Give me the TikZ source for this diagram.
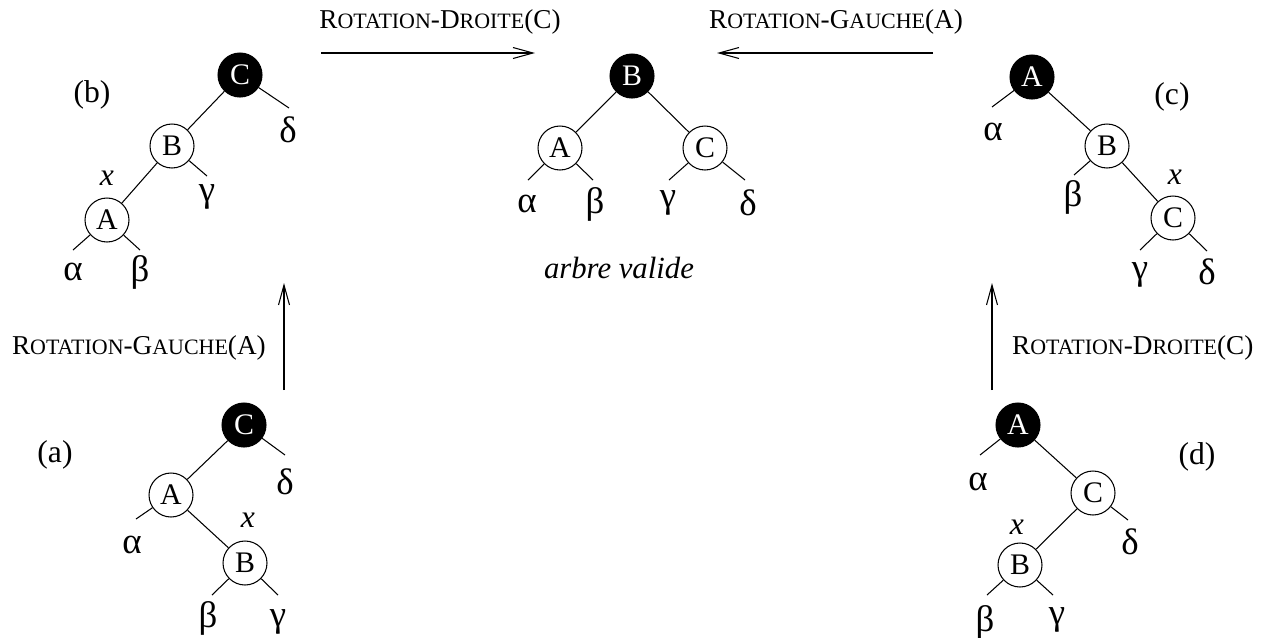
\documentclass[tikz,border=0pt]{standalone}
\usepackage{fontspec}
\setmainfont{Liberation Serif}[ItalicFont={Liberation Serif Italic}]
\usetikzlibrary{arrows.meta}

\newcommand{\pc}[1]{{\fontsize{12.5pt}{14pt}\selectfont #1}}
\newcommand{\rotd}{R\pc{OTATION}-D\pc{ROITE}(C)}
\newcommand{\rotg}{R\pc{OTATION}-G\pc{AUCHE}(A)}

\tikzset{
  noeud/.style={circle, draw, line width=0.6pt, minimum size=0.88cm, inner sep=0pt, font=\fontsize{17pt}{20pt}\selectfont},
  noir/.style={noeud, fill=black, text=white},
  arete/.style={line width=0.6pt},
  grec/.style={font=\fontsize{21pt}{24pt}\selectfont},
  etiq/.style={font=\fontsize{18pt}{21pt}\selectfont},
  fleche/.style={line width=0.6pt, -{Straight Barb[length=0.4cm, width=0.22cm]}},
}

\begin{document}
\begin{tikzpicture}[x=0.02cm, y=-0.02cm, font=\fontsize{15.5pt}{18pt}\selectfont]
        \useasboundingbox (0,0) rectangle (1268,637);

        % (b)
        \node[noir](bC) at (240,75) {C};
        \node[noeud](bB) at (172,146) {B};
        \node[noeud](bA) at (107,220) {A};
        \coordinate (bd) at (289,108);
        \coordinate (bg) at (207,176);
        \coordinate (ba) at (73,250);
        \coordinate (bb) at (140,250);
        \draw[arete] (bC) -- (bB) (bB) -- (bA) (bC) -- (bd) (bB) -- (bg) (bA) -- (ba) (bA) -- (bb);
        \node[grec](bdl) at (288,130) {δ};
        \node[grec](bgl) at (207,197) {γ};
        \node[grec](bal) at (73,272) {α};
        \node[grec](bbl) at (140,272) {β};
        \node[etiq](bx) at (107,178) {\textit{x}};
        \node[etiq](bt) at (92,95) {(b)};

        % (a)
        \node[noir](aC) at (244,425) {C};
        \node[noeud](aA) at (171,495) {A};
        \node[noeud](aB) at (245,563) {B};
        \coordinate (ad) at (285,455);
        \coordinate (aa) at (136,519);
        \coordinate (ab) at (212,595);
        \coordinate (ag) at (278,595);
        \draw[arete] (aC) -- (aA) (aA) -- (aB) (aC) -- (ad) (aA) -- (aa) (aB) -- (ab) (aB) -- (ag);
        \node[grec](adl) at (285,482) {δ};
        \node[grec](aal) at (132,545) {α};
        \node[grec](abl) at (208,618) {β};
        \node[grec](agl) at (278,622) {γ};
        \node[etiq](ax) at (248,520) {\textit{x}};
        \node[etiq](at) at (55,455) {(a)};

        % arbre valide
        \node[noir](mB) at (632,76) {B};
        \node[noeud](mA) at (560,148) {A};
        \node[noeud](mC) at (705,148) {C};
        \coordinate (ma) at (528,180);
        \coordinate (mb) at (593,180);
        \coordinate (mg) at (669,180);
        \coordinate (md) at (745,180);
        \draw[arete] (mB) -- (mA) (mB) -- (mC) (mA) -- (ma) (mA) -- (mb) (mC) -- (mg) (mC) -- (md);
        \node[grec](mal) at (527,204) {α};
        \node[grec](mbl) at (595,204) {β};
        \node[grec](mgl) at (668,203) {γ};
        \node[grec](mdl) at (748,203) {δ};
        \node[font=\fontsize{17.5pt}{20pt}\selectfont](mt) at (619,268) {\textit{arbre valide}};

        % (c)
        \node[noir](cA) at (1032,77) {A};
        \node[noeud](cB) at (1107,146) {B};
        \node[noeud](cC) at (1173,218) {C};
        \coordinate (ca) at (992,107);
        \coordinate (cb) at (1074,175);
        \coordinate (cg) at (1140,250);
        \coordinate (cd) at (1207,251);
        \draw[arete] (cA) -- (cB) (cB) -- (cC) (cA) -- (ca) (cB) -- (cb) (cC) -- (cg) (cC) -- (cd);
        \node[grec](cal) at (993,132) {α};
        \node[grec](cbl) at (1073,197) {β};
        \node[grec](cgl) at (1140,275) {γ};
        \node[grec](cdl) at (1207,272) {δ};
        \node[etiq](cx) at (1175,177) {\textit{x}};
        \node[etiq](ct) at (1172,97) {(c)};

        % (d)
        \node[noir](dA) at (1018,425) {A};
        \node[noeud](dC) at (1093,493) {C};
        \node[noeud](dB) at (1020,565) {B};
        \coordinate (da) at (980,455);
        \coordinate (dd) at (1128,520);
        \coordinate (db) at (987,595);
        \coordinate (dg) at (1053,595);
        \draw[arete] (dA) -- (dC) (dC) -- (dB) (dA) -- (da) (dC) -- (dd) (dB) -- (db) (dB) -- (dg);
        \node[grec](dal) at (978,482) {α};
        \node[grec](ddl) at (1130,542) {δ};
        \node[grec](dbl) at (985,622) {β};
        \node[grec](dgl) at (1057,620) {γ};
        \node[etiq](dx) at (1017,527) {\textit{x}};
        \node[etiq](dt) at (1197,457) {(d)};

        % rotations
        \coordinate (h1s) at (321,53);
        \coordinate (h1e) at (535,53);
        \coordinate (h2s) at (933,53);
        \coordinate (h2e) at (717,53);
        \coordinate (v1s) at (284,390);
        \coordinate (v1e) at (284,283);
        \coordinate (v2s) at (992,390);
        \coordinate (v2e) at (992,283);
        \draw[fleche] (h1s) -- (h1e);
        \draw[fleche] (h2s) -- (h2e);
        \draw[fleche] (v1s) -- (v1e);
        \draw[fleche] (v2s) -- (v2e);
        \node(r1) at (440,22) {\rotd};
        \node(r2) at (836,22) {\rotg};
        \node[anchor=east](r3) at (272,348) {\rotg};
        \node[anchor=west](r4) at (1006,348) {\rotd};

    \end{tikzpicture}
\end{document}
